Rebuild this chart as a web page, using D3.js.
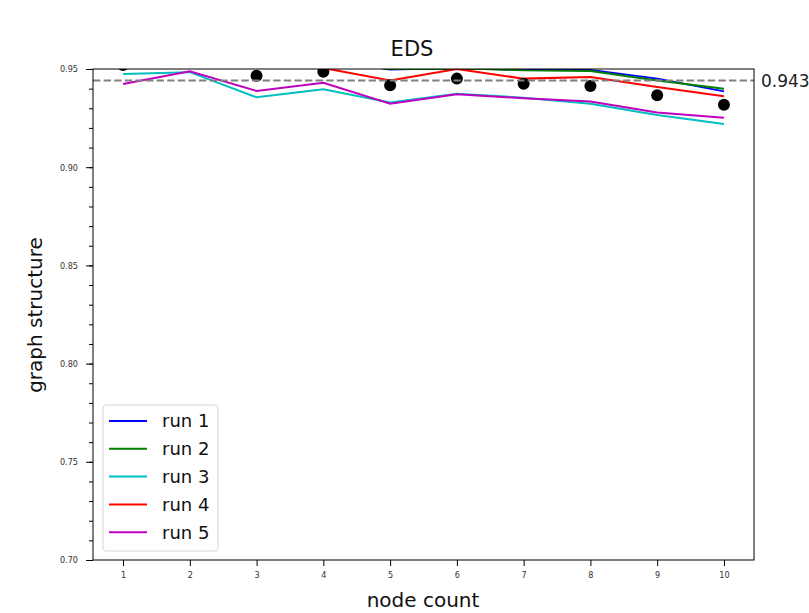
<!DOCTYPE html>
<html>
<head>
<meta charset="utf-8">
<script src="https://cdn.jsdelivr.net/npm/d3@7"></script>
<style>
  body { margin: 0; background: #fff; overflow: hidden; }
  svg { font-family: "DejaVu Sans", sans-serif; }
</style>
</head>
<body>
<script>
var nodeCount = [1, 2, 3, 4, 5, 6, 7, 8, 9, 10];
var run1 = [0.9570, 0.9565, 0.9530, 0.9550, 0.9497, 0.9505, 0.9495, 0.9495, 0.9451, 0.9386];
var run2 = [0.9565, 0.9555, 0.9528, 0.9548, 0.9500, 0.9505, 0.9493, 0.9490, 0.9442, 0.9400];
var run3 = [0.9475, 0.9484, 0.9356, 0.9397, 0.9330, 0.9374, 0.9354, 0.9323, 0.9266, 0.9220];
var run4 = [0.9530, 0.9540, 0.9530, 0.9505, 0.9442, 0.9500, 0.9451, 0.9459, 0.9408, 0.9361];
var run5 = [0.9424, 0.9488, 0.9388, 0.9430, 0.9323, 0.9371, 0.9351, 0.9335, 0.9279, 0.9252];
var meanPts = [0.9520, 0.9530, 0.9466, 0.9486, 0.9417, 0.9451, 0.9425, 0.9413, 0.9366, 0.9318];
var refValue = 0.9441;
var refLabel = '0.943';
var yTicks = [0.70, 0.75, 0.80, 0.85, 0.90, 0.95];
var runNames = ['run 1', 'run 2', 'run 3', 'run 4', 'run 5'];
var runColors = ['#0000ff', '#008000', '#00bfbf', '#ff0000', '#bf00bf'];
var runs = [run1, run2, run3, run4, run5];

var W = 809, H = 613;
var pL = 93, pR = 754, pT = 69, pB = 560;

var svg = d3.select('body').append('svg').attr('width', W).attr('height', H);

var x = d3.scaleLinear().domain([0.55, 10.45]).range([pL, pR]);
var y = d3.scaleLinear().domain([0.70, 0.95]).range([pB, pT]);

svg.append('defs').append('clipPath').attr('id', 'plotclip')
  .append('rect').attr('x', pL).attr('y', pT).attr('width', pR - pL).attr('height', pB - pT);

var plot = svg.append('g').attr('clip-path', 'url(#plotclip)');

var line = d3.line().x(function(d, i) { return x(nodeCount[i]); }).y(function(d) { return y(d); });

runs.forEach(function(r, i) {
  plot.append('path').datum(r).attr('d', line)
    .attr('fill', 'none').attr('stroke', runColors[i]).attr('stroke-width', 2);
});

plot.selectAll('circle.mean').data(meanPts).enter().append('circle')
  .attr('class', 'mean')
  .attr('cx', function(d, i) { return x(nodeCount[i]); })
  .attr('cy', function(d) { return y(d); })
  .attr('r', 6).attr('fill', '#000');

svg.append('line')
  .attr('x1', pL).attr('x2', pR).attr('y1', y(refValue)).attr('y2', y(refValue))
  .attr('stroke', '#808080').attr('stroke-width', 2).attr('stroke-dasharray', '7.4,3.2');

svg.append('text').attr('x', pR + 7).attr('y', y(refValue)).attr('dy', '0.35em')
  .attr('font-size', 17).attr('fill', '#222').text(refLabel);

// axes
var xAxis = svg.append('g').attr('transform', 'translate(0,' + pB + ')')
  .call(d3.axisBottom(x).tickValues(nodeCount).tickFormat(d3.format('d')).tickSize(6).tickPadding(6));
var yAxis = svg.append('g').attr('transform', 'translate(' + pL + ',0)')
  .call(d3.axisLeft(y).tickValues(yTicks).tickFormat(d3.format('.2f')).tickSize(7).tickPadding(8));
svg.append('g').attr('transform', 'translate(' + pL + ',0)')
  .call(d3.axisLeft(y).ticks(25).tickFormat('').tickSize(4))
  .call(function(g) { g.select('.domain').remove(); });

[xAxis, yAxis].forEach(function(g) {
  g.select('.domain').remove();
  g.selectAll('text').attr('font-size', 9).attr('fill', '#333').style('font-family', '"DejaVu Sans Condensed", "DejaVu Sans", sans-serif');
});

svg.append('rect').attr('x', pL).attr('y', pT).attr('width', pR - pL).attr('height', pB - pT)
  .attr('fill', 'none').attr('stroke', '#000').attr('stroke-width', 1);

// titles
svg.append('text').attr('x', 412).attr('y', 56).attr('text-anchor', 'middle')
  .attr('font-size', 21).attr('fill', '#111').text('EDS');
svg.append('text').attr('x', 423).attr('y', 607).attr('text-anchor', 'middle')
  .attr('font-size', 20).attr('fill', '#111').text('node count');
svg.append('text').attr('transform', 'translate(42,315) rotate(-90)')
  .attr('text-anchor', 'middle').attr('font-size', 20).attr('fill', '#111').text('graph structure');

// legend
var leg = svg.append('g').attr('transform', 'translate(103,405)');
leg.append('rect').attr('width', 115).attr('height', 146).attr('rx', 3)
  .attr('fill', 'rgba(255,255,255,0.8)').attr('stroke', '#d6d6d6');
runNames.forEach(function(n, i) {
  var yy = 16 + i * 27.8;
  leg.append('line').attr('x1', 6).attr('x2', 44).attr('y1', yy).attr('y2', yy)
    .attr('stroke', runColors[i]).attr('stroke-width', 2);
  leg.append('text').attr('x', 59).attr('y', yy).attr('dy', '0.35em')
    .attr('font-size', 18).attr('fill', '#111').text(n);
});
</script>
</body>
</html>
